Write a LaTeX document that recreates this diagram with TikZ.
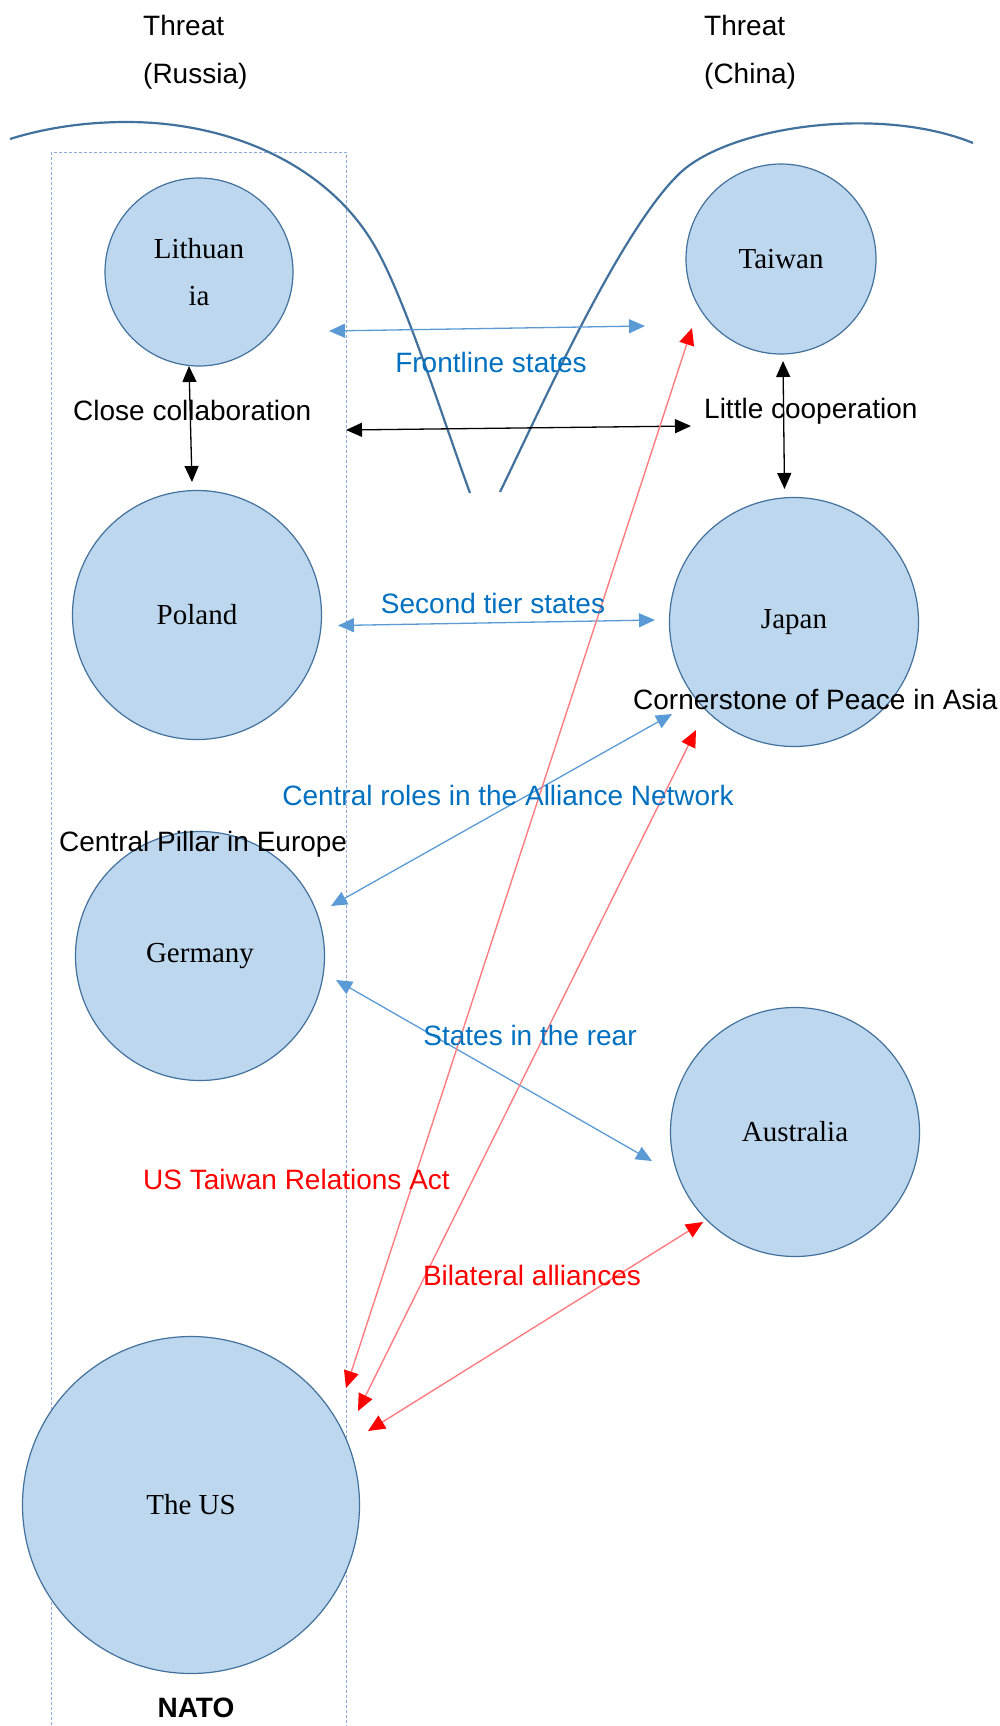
\documentclass[tikz,border=0pt]{standalone}
\usepackage{fontspec}
\setmainfont{Liberation Serif}
\newfontfamily\arialf{Liberation Sans}
\usetikzlibrary{arrows.meta}
\definecolor{cfill}{HTML}{BDD7EE}
\definecolor{cborder}{HTML}{41719C}
\definecolor{bluel}{HTML}{5B9BD5}
\definecolor{bluet}{HTML}{0070C0}
\definecolor{redl}{HTML}{FF7C80}
\definecolor{rectc}{HTML}{8FAADC}
\tikzset{
  country/.style={circle, draw=cborder, fill=cfill, line width=1.2pt, inner sep=0pt,
    font=\fontsize{29}{47}\selectfont, align=center},
  lbl/.style={inner sep=0pt, font=\arialf\fontsize{28}{34}\selectfont},
  bluelbl/.style={lbl, text=bluet},
  redlbl/.style={lbl, text=red},
  tipb/.tip={Triangle[length=16pt,width=14pt,color=bluel]},
  tipk/.tip={Triangle[length=16pt,width=14pt,color=black]},
  tipr/.tip={Triangle[length=17pt,width=15pt,color=red]},
  bluearr/.style={draw=bluel, line width=1.3pt, tipb-tipb},
  blackarr/.style={draw=black, line width=1.3pt, tipk-tipk},
  redarr/.style={draw=redl, line width=1.4pt, tipr-tipr},
  threat/.style={draw=cborder, line width=2.2pt},
}
\begin{document}
\begin{tikzpicture}[x=1pt,y=-1pt]
\useasboundingbox (0,0) rectangle (1000,1726);
% NATO frame
\draw[rectc, line width=1pt, dash pattern=on 3pt off 2pt] (51,152) rectangle (346,1745);
% threat curves
\draw[threat] (10,139) .. controls (45,128) and (85,122) .. (127,122)
  .. controls (230,122) and (330,165) .. (377,250)
  .. controls (407,304) and (445,425) .. (470,493);
\draw[threat] (500,492) .. controls (540,410) and (620,230) .. (680,173)
  .. controls (730,126) and (880,105) .. (973,143);
% countries
\node[country, minimum size=188pt] (lit) at (199,272) {Lithuan\\ia};
\node[country, minimum size=190pt] (tai) at (781,259) {Taiwan};
\node[country, minimum size=249pt] (pol) at (197,615) {Poland};
\node[country, minimum size=249pt] (jap) at (794,622) {Japan};
\node[country, minimum size=249pt] (ger) at (200,956) {Germany};
\node[country, minimum size=249pt] (aus) at (795,1132) {Australia};
\node[country, minimum size=337pt] (us) at (191,1505) {The US};
% top labels
\node[lbl, anchor=west] (t1) at (143,25) {Threat};
\node[lbl, anchor=west] (t1b) at (143,76) {(Russia)};
\node[lbl, anchor=west] (t2) at (704,25) {Threat};
\node[lbl, anchor=west] (t2b) at (704,76) {(China)};
% connector endpoints
\coordinate (fsL) at (329,331); \coordinate (fsR) at (645,326);
\coordinate (ccT) at (189,366); \coordinate (ccB) at (192,482);
\coordinate (bkL) at (346,430); \coordinate (bkR) at (691,426);
\coordinate (lcT) at (783,361); \coordinate (lcB) at (784.5,489);
\coordinate (stL) at (338,625.5); \coordinate (stR) at (655,620);
\coordinate (crJ) at (672,714); \coordinate (crG) at (331,906);
\coordinate (srG) at (336,980); \coordinate (srA) at (652,1161);
\coordinate (rTa) at (692,328); \coordinate (rTu) at (346,1388);
\coordinate (rJa) at (696,730); \coordinate (rJu) at (358,1411);
\coordinate (rAa) at (703,1222); \coordinate (rAu) at (368,1431);
% connectors
\draw[bluearr] (fsL) -- (fsR);
\draw[blackarr] (ccT) -- (ccB);
\draw[blackarr] (bkL) -- (bkR);
\draw[blackarr] (lcT) -- (lcB);
\draw[bluearr] (stL) -- (stR);
\draw[bluearr] (crJ) -- (crG);
\draw[bluearr] (srG) -- (srA);
\draw[redarr] (rTa) -- (rTu);
\draw[redarr] (rJa) -- (rJu);
\draw[redarr] (rAa) -- (rAu);
% labels
\node[bluelbl] (lfs) at (491,362) {Frontline states};
\node[lbl, anchor=west] (lcc) at (73,410) {Close collaboration};
\node[lbl, anchor=west] (llc) at (704,411) {Little cooperation};
\node[bluelbl] (lst) at (493,603) {Second tier states};
\node[lbl, anchor=west] (lcp) at (633,699) {Cornerstone of Peace in Asia};
\node[bluelbl] (lcr) at (508,795) {Central roles in the Alliance Network};
\node[lbl, anchor=west] (lpe) at (59,844) {Central Pillar in Europe};
\node[bluelbl] (lsr) at (530,1035) {States in the rear};
\node[redlbl, anchor=west] (ltra) at (143,1179) {US Taiwan Relations Act};
\node[redlbl] (lba) at (532,1275) {Bilateral alliances};
\node[lbl, font=\arialf\bfseries\fontsize{28}{34}\selectfont] (nato) at (196,1708) {NATO};
\end{tikzpicture}
\end{document}
